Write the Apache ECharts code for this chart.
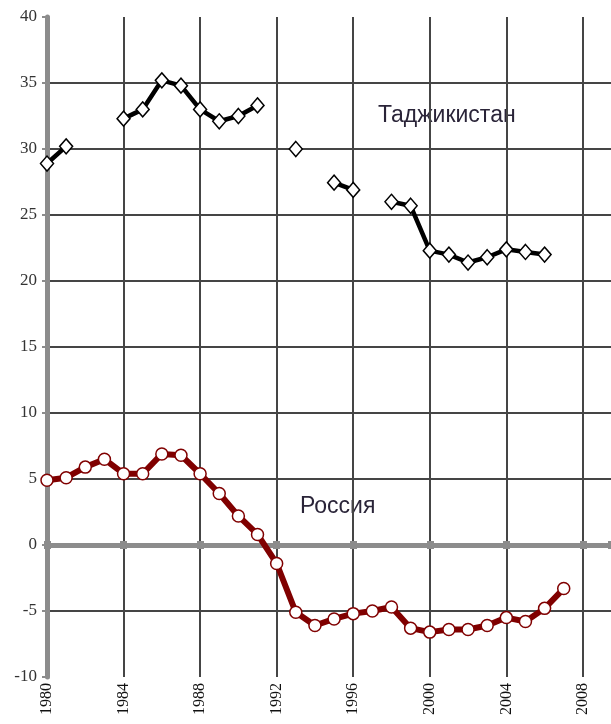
<!DOCTYPE html>
<html>
<head>
<meta charset="utf-8">
<script src="https://cdn.jsdelivr.net/npm/echarts@6/dist/echarts.min.js"></script>
<style>
html,body{margin:0;padding:0;background:#fff;}
#chart{width:611px;height:724px;}
</style>
</head>
<body>
<div id="chart"></div>
<script>
const years = [1980,1981,1982,1983,1984,1985,1986,1987,1988,1989,1990,1991,1992,1993,1994,1995,1996,1997,1998,1999,2000,2001,2002,2003,2004,2005,2006,2007];
const tajikistan = [28.9,30.2,null,null,32.3,33.0,35.2,34.8,33.0,32.1,32.5,33.3,null,30.0,null,27.45,26.9,null,26.0,25.7,22.3,22.0,21.4,21.8,22.4,22.2,22.0,null];
const russia = [4.9,5.1,5.9,6.5,5.4,5.4,6.9,6.8,5.4,3.9,2.2,0.8,-1.4,-5.1,-6.1,-5.6,-5.2,-5.0,-4.7,-6.3,-6.6,-6.4,-6.4,-6.1,-5.5,-5.8,-4.8,-3.3];
const labelTajik = 'Таджикистан';
const labelRussia = 'Россия';

const xMin = 1980, xMax = 2009.47, yMin = -10, yMax = 40;
const pair = arr => years.map((y,i) => [y, arr[i]]);

const chart = echarts.init(document.getElementById('chart'));
const zeroAxisBase = {
  type:'value', min:xMin, max:xMax, interval:4, position:'bottom',
  axisLine:{show:true, onZero:true, onZeroAxisIndex:0, lineStyle:{color:'#8c8c8c', width:5}},
  axisLabel:{show:false}, splitLine:{show:false}, z:1
};
chart.setOption({
  animation:false,
  backgroundColor:'#fff',
  grid:{left:47, top:17, width:580, height:660, containLabel:false},
  xAxis:[
    {type:'value', min:xMin, max:xMax, interval:4, position:'bottom',
     axisLine:{show:false, onZero:false}, axisTick:{show:false},
     splitLine:{show:true, showMinLine:false, showMaxLine:false, lineStyle:{color:'#454545', width:2}},
     axisLabel:{rotate:90, margin:6, fontFamily:'Liberation Serif', fontSize:16, color:'#111',
       formatter:v => (v % 4 === 0 && v <= 2008) ? String(v) : ''}},
    Object.assign({}, zeroAxisBase, {axisTick:{show:true, inside:false, length:4, lineStyle:{color:'#8c8c8c', width:7}}}),
    Object.assign({}, zeroAxisBase, {axisTick:{show:true, inside:true, length:4, lineStyle:{color:'#8c8c8c', width:7}}})
  ],
  yAxis:{type:'value', min:yMin, max:yMax, interval:5,
    axisLine:{show:true, onZero:false, lineStyle:{color:'#8c8c8c', width:5}},
    axisTick:{show:true, length:5, lineStyle:{color:'#8c8c8c', width:2}},
    splitLine:{show:true, showMinLine:false, showMaxLine:false, lineStyle:{color:'#454545', width:2}},
    axisLabel:{margin:10, fontFamily:'Liberation Serif', fontSize:17, color:'#333'}},
  series:[
    {name:labelTajik, type:'line', data:pair(tajikistan), connectNulls:false,
     lineStyle:{color:'#000', width:4.5}, symbol:'diamond', symbolSize:[13,15],
     itemStyle:{color:'#fff', borderColor:'#000', borderWidth:1.5}, z:3},
    {name:labelRussia, type:'line', data:pair(russia),
     lineStyle:{color:'#800000', width:6}, symbol:'circle', symbolSize:12,
     itemStyle:{color:'#fff', borderColor:'#800000', borderWidth:1.5}, z:3}
  ],
  graphic:[
    {type:'text', left:378, top:104, style:{text:labelTajik, font:'23px "Liberation Sans"', fill:'#2a2438'}},
    {type:'text', left:300, top:495, style:{text:labelRussia, font:'23px "Liberation Sans"', fill:'#2a2438'}}
  ]
});
</script>
</body>
</html>
